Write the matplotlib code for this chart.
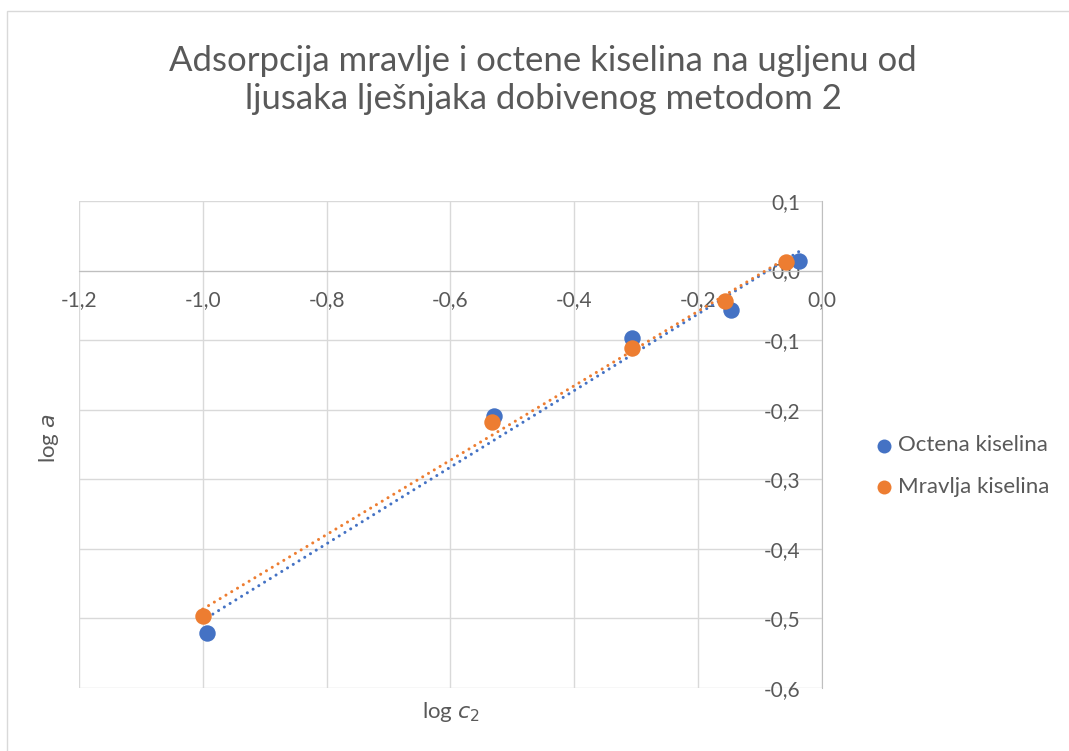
import numpy as np
import matplotlib.pyplot as plt
from matplotlib.patches import Rectangle

# log c2 / log a values
x_octena = [-0.993, -0.530, -0.306, -0.147, -0.037]
y_octena = [-0.521, -0.209, -0.097, -0.057, 0.014]
x_mravlja = [-1.000, -0.533, -0.306, -0.157, -0.058]
y_mravlja = [-0.496, -0.218, -0.112, -0.044, 0.013]

labels = ["Octena kiselina", "Mravlja kiselina"]
colors = ["#4472C4", "#ED7D31"]

plt.rcParams['font.family'] = ['Lato', 'DejaVu Sans']
text_col = "#595959"

fig = plt.figure(figsize=(10.69, 7.51), dpi=100)
ax = fig.add_axes([79 / 1069, 1 - 688 / 751, (821.7 - 79) / 1069, (688 - 201) / 751])

series = [(x_octena, y_octena), (x_mravlja, y_mravlja)]

# trendlines (linear fit over the data range)
for (xs, ys), c in zip(series, colors):
    k, n = np.polyfit(xs, ys, 1)
    xt = np.array([min(xs), max(xs)])
    ax.plot(xt, k * xt + n, color=c, lw=2.2, linestyle=(0, (0.01, 2.2)),
            dash_capstyle='round', zorder=3)

for (xs, ys), c, lab in zip(series, colors, labels):
    ax.scatter(xs, ys, s=140, color=c, label=lab, zorder=4, linewidths=0)

ax.set_xlim(-1.2, 0.0)
ax.set_ylim(-0.6, 0.1)
ax.set_xticks(np.arange(-1.2, 0.01, 0.2))
ax.set_yticks(np.arange(-0.6, 0.11, 0.1))
fmt = lambda v: f"{v:.1f}".replace(".", ",").replace("-0,0", "0,0")
ax.set_xticklabels([fmt(v) for v in ax.get_xticks()])
ax.set_yticklabels([fmt(v) for v in ax.get_yticks()])

ax.grid(True, color="#d9d9d9", lw=1.0)
ax.set_axisbelow(True)
for s in ["top", "right"]:
    ax.spines[s].set_visible(False)
ax.spines["left"].set_position(("data", 0))
ax.spines["bottom"].set_position(("data", 0))
ax.spines["left"].set_color("#bfbfbf")
ax.spines["bottom"].set_color("#bfbfbf")
ax.tick_params(axis="both", length=0, labelsize=15, labelcolor=text_col)
ax.tick_params(axis="x", pad=14)
ax.tick_params(axis="y", pad=15)

fig.text(451 / 1069, 1 - 712 / 751, r"log $\mathit{c}_2$", ha="center", va="center",
         fontsize=16, color=text_col)
fig.text(49 / 1069, 1 - 438 / 751, r"log $\mathit{a}$", ha="center", va="center",
         rotation=90, fontsize=16, color=text_col)

fig.text(543 / 1069, 1 - 80 / 751,
         "Adsorpcija mravlje i octene kiselina na ugljenu od\nljusaka lješnjaka dobivenog metodom 2",
         ha="center", va="center", fontsize=25, color=text_col, linespacing=1.2)

fig.legend(loc="center left", bbox_to_anchor=(875 / 1069, 1 - 466 / 751), frameon=False,
           fontsize=16, labelcolor=text_col, handlelength=0.8, handletextpad=0.25,
           labelspacing=0.95, markerscale=0.85, borderaxespad=0, borderpad=0)

fig.patches.append(Rectangle((7 / 1069, -0.1), 1.2, 1 - 11 / 751 + 0.1,
                             transform=fig.transFigure, fill=False,
                             edgecolor="#d9d9d9", lw=1.0))

fig.savefig("out.png", dpi=100)
